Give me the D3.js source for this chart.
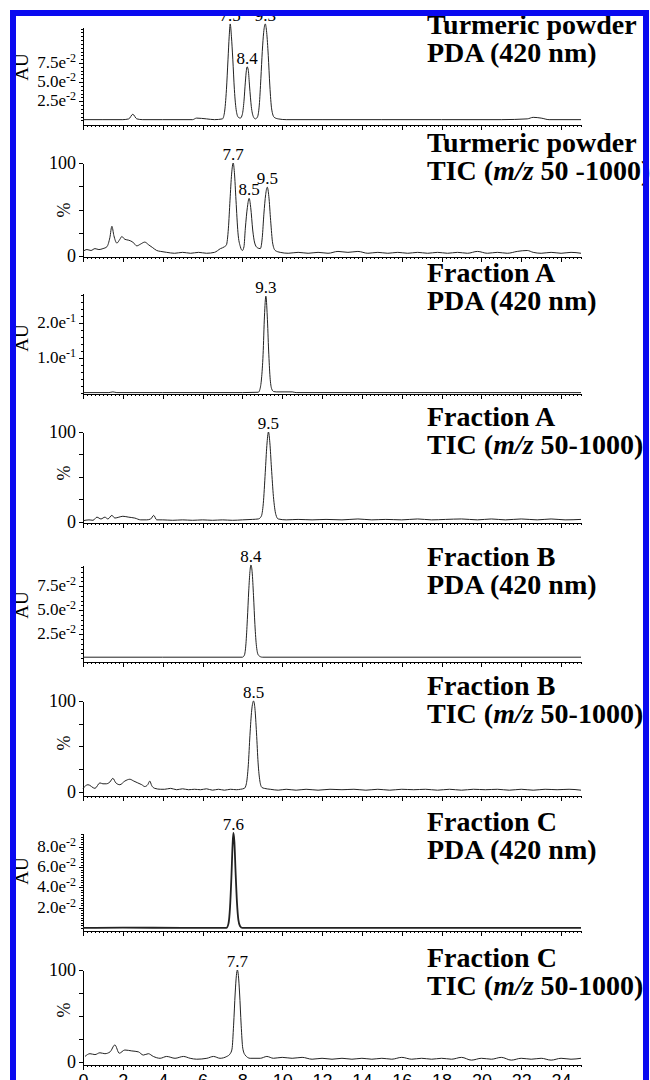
<!DOCTYPE html>
<meta charset="utf-8">
<style>
body { margin: 0; background: #fff; overflow: hidden; }
svg { display: block; font-family: "Liberation Serif", "DejaVu Serif", serif; }
.axis path, .axis line { stroke: #000; stroke-width: 1; fill: none; shape-rendering: crispEdges; }
.trace { fill: none; stroke: #222; stroke-width: 1; }
.title { font-weight: bold; font-size: 28px; fill: #000; }
.tick-lab { font-size: 17px; fill: #000; }
.peak-lab { font-size: 17px; fill: #000; }
</style>
<body>
<script src="https://cdn.jsdelivr.net/npm/d3@7"></script>
<script>
// ---- data: [time (min), signal] ----
var pdaTurmeric = [[0,0.001],[1,0.001],[2,0.001],[2.3,0.002],[2.5,0.008],[2.7,0.002],[3,0.001],[4,0.001],[5.5,0.001],[5.7,0.003],[6.2,0.002],[6.6,0.001],[7.0,0.002],
  [7.1,0.01],[7.2,0.04],[7.28,0.08],[7.34,0.11],[7.39,0.126],[7.45,0.11],[7.52,0.08],[7.6,0.04],[7.7,0.012],[7.8,0.004],[7.9,0.003],
  [8.0,0.008],[8.08,0.025],[8.15,0.05],[8.2,0.065],[8.24,0.07],[8.3,0.065],[8.36,0.045],[8.45,0.018],[8.55,0.005],[8.65,0.002],[8.75,0.004],
  [8.85,0.02],[8.93,0.055],[9.0,0.09],[9.07,0.115],[9.15,0.126],[9.22,0.115],[9.3,0.085],[9.38,0.045],[9.47,0.015],[9.6,0.004],[9.8,0.002],[10.2,0.001],
  [12,0.001],[15,0.001],[18,0.001],[21,0.001],[22.3,0.002],[22.6,0.004],[23,0.003],[23.4,0.001],[25,0.001]];

var ticTurmeric = [[0,5],[0.2,7],[0.4,6],[0.6,8],[0.8,7],[1.0,8],[1.2,10],[1.35,20],[1.45,32],[1.55,22],[1.7,14],[1.85,18],[1.95,21],[2.1,18],[2.3,17],[2.5,15],[2.7,11],[2.9,13],[3.1,15],[3.3,12],[3.5,9],[3.7,6],[3.9,5],[4.2,4],[4.6,3],[5.0,4],[5.4,3],[5.8,4],[6.2,3],[6.6,4],[6.9,8],[7.1,10],[7.2,12],
  [7.3,30],[7.38,60],[7.46,88],[7.54,100],[7.6,90],[7.68,60],[7.78,25],[7.9,10],[8.0,6],[8.08,10],[8.15,30],[8.25,52],[8.34,62],[8.42,52],[8.52,28],[8.62,14],[8.75,9],[8.9,8],
  [9.0,20],[9.08,45],[9.17,66],[9.25,74],[9.33,64],[9.42,38],[9.52,14],[9.65,6],[9.9,4],[10.3,3],[10.8,4],[11.3,3],[11.8,4],[12.3,3],[12.8,5],[13.3,4],[13.8,5],[14.3,3],[14.8,4],[15.3,3],[15.8,4],[16.3,3],[16.8,4],[17.3,3],[17.8,4],[18.3,3],[18.8,4],[19.3,3],[19.8,5],[20.3,3],[20.8,4],[21.3,3],[21.8,5],[22.3,6],[22.6,4],[23,3],[23.5,4],[24,3],[24.5,4],[25,3]];

var pdaFracA = [[0,0.001],[1.3,0.001],[1.5,0.003],[1.7,0.001],[4,0.001],[8,0.001],[8.8,0.002],[8.88,0.01],[8.96,0.04],[9.04,0.11],[9.11,0.22],[9.18,0.277],[9.25,0.22],[9.32,0.12],[9.39,0.045],[9.47,0.012],[9.57,0.004],[9.7,0.003],[10.5,0.003],[10.7,0.001],[25,0.001]];

var ticFracA = [[0,1],[0.3,2],[0.5,1.5],[0.7,5],[0.9,3],[1.1,5],[1.25,3],[1.45,7],[1.6,4],[1.8,5],[2.0,6],[2.3,5],[2.6,4],[2.9,2],[3.2,2],[3.4,3],[3.55,7],[3.7,2],[4.0,2],[4.5,1.5],[5,2],[5.5,1.5],[6,2],[6.5,1.5],[7,2],[7.5,1.5],[8,2],[8.5,2.5],[8.8,3],
  [8.95,6],[9.05,20],[9.15,55],[9.23,85],[9.31,100],[9.38,88],[9.46,60],[9.56,28],[9.68,8],[9.8,3],[10.2,2],[10.8,2.5],[11.5,2],[12.2,2.5],[13,2],[13.8,3],[14.5,2],[15.2,2.5],[16,2],[16.8,3],[17.5,2],[18.2,2.5],[19,3],[19.8,2],[20.5,3],[21.2,2],[22,3],[22.8,2],[23.5,3],[24.2,2],[25,2.5]];

var pdaFracB = [[0,0.001],[4,0.001],[8,0.001],[8.1,0.003],[8.18,0.015],[8.25,0.04],[8.32,0.07],[8.38,0.09],[8.43,0.097],[8.49,0.09],[8.56,0.065],[8.63,0.035],[8.71,0.012],[8.81,0.003],[9,0.001],[25,0.001]];

var ticFracB = [[0,4],[0.25,8],[0.6,4],[0.85,10],[1.0,9],[1.17,9],[1.35,11],[1.5,15],[1.65,10],[1.85,8],[2.1,12],[2.35,14],[2.55,12],[2.75,10],[2.95,8],[3.1,6],[3.25,8],[3.35,12],[3.45,7],[3.6,4],[3.9,3],[4.1,3],[4.4,4],[4.7,2.5],[5.0,3.5],[5.3,2.5],[5.6,3],[5.9,2.5],[6.2,3.5],[6.5,2],[6.8,3],[7.1,2],[7.4,3],[7.7,2.5],[7.9,3],
  [8.1,4],[8.2,9],[8.3,30],[8.38,62],[8.47,90],[8.56,100],[8.63,92],[8.71,65],[8.79,32],[8.88,12],[8.98,5],[9.1,4],[9.4,3],[9.8,2],[10.2,3],[10.7,2],[11.2,3],[11.8,2],[12.4,3],[13,2.5],[13.6,3],[14.2,2],[14.8,3],[15.4,2],[16,3],[16.6,2.5],[17.2,3],[17.8,2],[18.4,3],[19,2],[19.6,3],[20.2,2.5],[20.8,3],[21.4,2],[22,3],[22.6,2],[23.2,3],[23.8,2.5],[24.4,3],[25,2]];

var pdaFracC = [[0,0],[2,0.0004],[5,0],[7.2,0],[7.3,0.004],[7.38,0.02],[7.45,0.05],[7.51,0.082],[7.55,0.0936],[7.6,0.085],[7.66,0.055],[7.73,0.025],[7.8,0.008],[7.88,0.002],[8,0],[25,0]];

var ticFracC = [[0.1,6],[0.35,9],[0.6,8],[0.85,10],[1.1,9],[1.36,11],[1.6,18.5],[1.82,9.5],[2.1,13],[2.45,12],[2.78,11],[3.03,7.5],[3.28,9],[3.53,6],[3.87,4],[4.2,6],[4.62,4],[5.04,6],[5.38,4],[5.71,3],[6.22,4],[6.55,6],[6.88,4],[7.22,6],
  [7.39,9],[7.48,14],[7.56,40],[7.64,75],[7.7,94],[7.75,100],[7.8,94],[7.86,75],[7.94,40],[8.02,15],[8.14,7.5],[8.39,4],[8.9,4],[9.23,6],[9.56,4],[10,5],[10.5,4],[11,5],[11.5,3],[12,4],[12.5,3],[13,4],[13.5,3],[14,4],[14.5,3],[15,4],[15.5,3],[16,5],[16.5,3],[17,4],[17.5,3],[18,4],[18.5,3],[19,5],[19.5,2],[20,4],[20.5,3],[21,5],[21.5,2],[22,4],[22.5,3],[23,4],[23.5,2],[24,4],[24.5,3],[25,4]];

// peak annotations: [apex time, label]
var peaksTurmericPda = [[7.39,"7.5"],[8.24,"8.4"],[9.15,"9.3"]];
var peaksTurmericTic = [[7.54,"7.7"],[8.34,"8.5"],[9.25,"9.5"]];
var peaksFracAPda = [[9.18,"9.3"]];
var peaksFracATic = [[9.31,"9.5"]];
var peaksFracBPda = [[8.43,"8.4"]];
var peaksFracBTic = [[8.56,"8.5"]];
var peaksFracCPda = [[7.55,"7.6"]];
var peaksFracCTic = [[7.75,"7.7"]];

// y tick labels: [value, mantissa, exponent]
var ticksTurmericPda = [[0.025,"2.5e","-2"],[0.05,"5.0e","-2"],[0.075,"7.5e","-2"]];
var ticksFracAPda = [[0.1,"1.0e","-1"],[0.2,"2.0e","-1"]];
var ticksFracBPda = [[0.025,"2.5e","-2"],[0.05,"5.0e","-2"],[0.075,"7.5e","-2"]];
var ticksFracCPda = [[0.02,"2.0e","-2"],[0.04,"4.0e","-2"],[0.06,"6.0e","-2"],[0.08,"8.0e","-2"]];
var ticksTic = [[0,"0",""],[100,"100",""]];

var titlesTop = ["Turmeric powder","Turmeric powder","Fraction A","Fraction A","Fraction B","Fraction B","Fraction C","Fraction C"];
var titlesBottom = ["PDA (420 nm)","TIC (|m/z| 50 -1000)","PDA (420 nm)","TIC (|m/z| 50-1000)","PDA (420 nm)","TIC (|m/z| 50-1000)","PDA (420 nm)","TIC (|m/z| 50-1000)"];
var timeTicks = [0,2,4,6,8,10,12,14,16,18,20,22,24];

// ---- layout ----
var W = 650, H = 1080, X0 = 83, X1 = 581;
var x = d3.scaleLinear().domain([0, 25]).range([X0, X1]);

var panels = [
  {kind:"pda", data:pdaTurmeric, peaks:peaksTurmericPda, ticks:ticksTurmericPda, dom:[-0.006,0.122], rng:[125,27], minor:0.005, unitY:67, titleY:34},
  {kind:"tic", data:ticTurmeric, peaks:peaksTurmericTic, ticks:ticksTic, dom:[-1,100], rng:[257,163], minor:25, unitY:210, titleY:152},
  {kind:"pda", data:pdaFracA, peaks:peaksFracAPda, ticks:ticksFracAPda, dom:[-0.003,0.286], rng:[394,293], minor:0.02, unitY:338, titleY:282},
  {kind:"tic", data:ticFracA, peaks:peaksFracATic, ticks:ticksTic, dom:[-1.5,100], rng:[523,432], minor:25, unitY:473, titleY:426},
  {kind:"pda", data:pdaFracB, peaks:peaksFracBPda, ticks:ticksFracBPda, dom:[-0.004,0.097], rng:[662,565], minor:0.005, unitY:605, titleY:566},
  {kind:"tic", data:ticFracB, peaks:peaksFracBTic, ticks:ticksTic, dom:[-4.4,100], rng:[796,701], minor:25, unitY:743, titleY:695},
  {kind:"pda", data:pdaFracC, peaks:peaksFracCPda, ticks:ticksFracCPda, dom:[-0.003,0.0936], rng:[931,833], minor:0.0025, unitY:871, titleY:831},
  {kind:"tic", data:ticFracC, peaks:peaksFracCTic, ticks:ticksTic, dom:[-3.3,100], rng:[1065,970], minor:25, unitY:1010, titleY:967}
];

var svg = d3.select("body").append("svg")
  .attr("width", W).attr("height", H);

svg.append("rect").attr("width", W).attr("height", H).attr("fill", "#fff");

panels.forEach(function(p, i) {
  var y = d3.scaleLinear().domain(p.dom).range(p.rng);
  var g = svg.append("g");
  var base = p.rng[0];

  // x axis: minor and major ticks
  g.append("g").attr("class", "axis").attr("transform", "translate(0," + base + ")")
    .call(d3.axisBottom(x).tickValues(d3.range(0, 25.01, 0.2)).tickSize(2).tickSizeOuter(0).tickFormat(""));
  var maj = g.append("g").attr("class", "axis").attr("transform", "translate(0," + base + ")")
    .call(d3.axisBottom(x).tickValues(timeTicks).tickSize(5).tickSizeOuter(0)
      .tickFormat(i == panels.length - 1 ? d3.format("d") : ""));
  maj.select(".domain").remove();
  maj.selectAll("text").attr("class", "tick-lab").style("font-size", "18px")
    .attr("font-family", null).attr("dy", null).attr("y", 22);

  // y axis
  var minorVals = d3.range(0, p.dom[1] + 1e-9, p.minor);
  g.append("g").attr("class", "axis").attr("transform", "translate(" + X0 + ",0)")
    .call(d3.axisLeft(y).tickValues(minorVals).tickSize(p.kind == "pda" ? 2 : 4).tickSizeOuter(0).tickFormat(""));
  var yl = g.append("g").attr("class", "axis").attr("transform", "translate(" + X0 + ",0)")
    .call(d3.axisLeft(y).tickValues(p.ticks.map(function(d) { return d[0]; })).tickSize(4).tickSizeOuter(0).tickFormat(""));
  yl.select(".domain").remove();

  p.ticks.forEach(function(t) {
    var tx = g.append("text").attr("class", "tick-lab")
      .attr("x", X0 - 7).attr("y", y(t[0]) + 5)
      .attr("text-anchor", "end");
    tx.append("tspan").text(t[1]);
    if (t[2]) {
      tx.append("tspan").attr("dy", -6).style("font-size", "12px").text(t[2]);
    } else {
      tx.style("font-size", "18px").attr("y", y(t[0]) + 6);
    }
  });

  // unit label
  g.append("text")
    .attr("transform", "translate(" + (p.kind == "pda" ? 28 : 70) + "," + p.unitY + ") rotate(-90)")
    .attr("text-anchor", "middle")
    .style("font-size", p.kind == "pda" ? "19px" : "18px")
    .text(p.kind == "pda" ? "AU" : "%");

  // trace
  var line = d3.line()
    .x(function(d) { return x(d[0]); })
    .y(function(d) { return y(d[1]); })
    .curve(d3.curveMonotoneX);
  g.append("path").attr("class", "trace")
    .style("stroke-width", i == 6 ? 1.8 : null)
    .attr("d", line(p.data));

  // peak labels
  p.peaks.forEach(function(pk) {
    var top = d3.max(p.data.filter(function(d) { return Math.abs(d[0] - pk[0]) < 0.1; }), function(d) { return d[1]; });
    g.append("text").attr("class", "peak-lab")
      .attr("x", x(pk[0])).attr("y", y(top) - 3)
      .attr("text-anchor", "middle").text(pk[1]);
  });

  // titles
  g.append("text").attr("class", "title").attr("x", 427).attr("y", p.titleY).text(titlesTop[i]);
  var t2 = g.append("text").attr("class", "title").attr("x", 427).attr("y", p.titleY + 28);
  titlesBottom[i].split("|").forEach(function(s, k) {
    t2.append("tspan").style("font-style", k == 1 ? "italic" : null).text(s);
  });
});

// blue frame
svg.append("rect")
  .attr("x", 13).attr("y", 13).attr("width", 633).attr("height", 1200)
  .attr("fill", "none").attr("stroke", "#0a0af0").attr("stroke-width", 6);
</script>
